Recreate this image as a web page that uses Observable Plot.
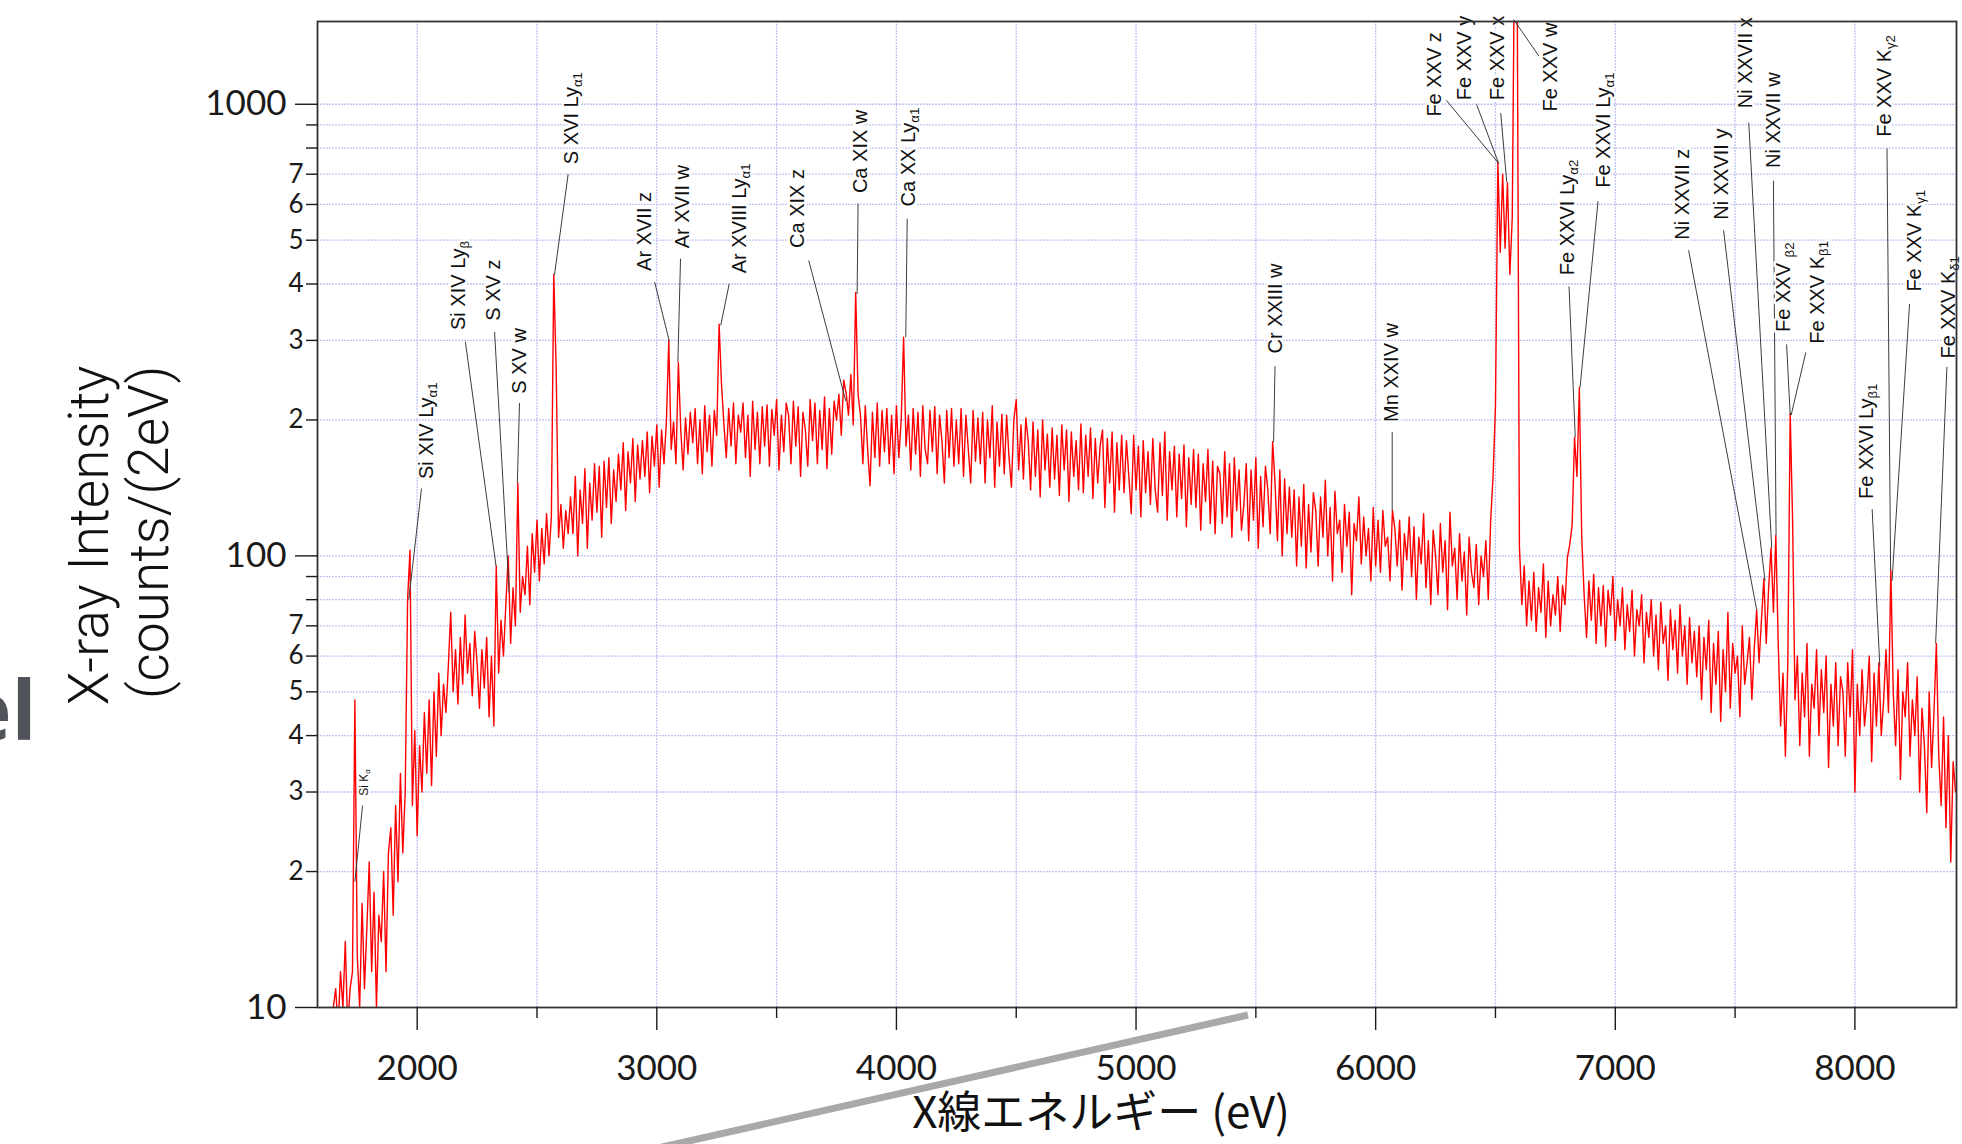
<!DOCTYPE html>
<html>
<head>
<meta charset="utf-8">
<script src="https://cdn.jsdelivr.net/npm/d3@7"></script>
<script src="https://cdn.jsdelivr.net/npm/@observablehq/plot@0.6"></script>
<style>
  html, body { margin: 0; padding: 0; background: #fff; }
  #wrap { position: relative; width: 1962px; height: 1144px; overflow: hidden; background: #fff; }
  #deco { position: absolute; left: 0; top: 0; pointer-events: none; }
</style>
</head>
<body>
<div id="wrap"></div>
<script>
// ---------------- data ----------------
// spectrum: counts per bin, bins of 10 eV starting at 1650 eV
const binStartEV = 1650;
const binWidthEV = 10;
const counts = [
  10, 11, 9, 12, 10, 14, 9, 11, 12, 48,          // 1650
  13, 10, 17, 11, 15, 21, 12, 18, 10, 16,        // 1750
  14, 20, 12, 22, 25, 16, 28, 19, 33, 22,        // 1850
  30, 80, 103, 28, 41, 24, 38, 30, 45, 33,       // 1950
  48, 31, 50, 36, 55, 40, 52, 45, 57, 75,        // 2050
  50, 62, 47, 66, 52, 74, 55, 64, 49, 68,        // 2150
  58, 46, 62, 51, 66, 44, 60, 42, 95, 55,        // 2250
  72, 60, 78, 100, 64, 85, 70, 145, 75, 90,      // 2350
  82, 105, 78, 112, 92, 120, 88, 115, 96, 124,   // 2450
  100, 122, 420, 260, 110, 130, 104, 126, 112, 135, // 2550
  112, 150, 100, 140, 118, 156, 104, 145, 120, 160, // 2650
  125, 158, 110, 162, 128, 165, 118, 155, 132, 168, // 2750
  140, 178, 126, 170, 145, 182, 132, 176, 148, 180, // 2850
  150, 188, 138, 184, 158, 195, 142, 190, 160, 198, // 2950
  300, 172, 198, 160, 268, 190, 155, 202, 168, 208, // 3050
  178, 212, 160, 200, 152, 215, 170, 205, 158, 210, // 3150
  185, 326, 240, 196, 165, 212, 175, 218, 160, 205, // 3250
  188, 218, 165, 205, 150, 220, 172, 208, 160, 214, // 3350
  175, 216, 158, 211, 185, 222, 155, 205, 170, 218, // 3450
  205, 160, 220, 175, 214, 150, 208, 190, 158, 222, // 3550
  180, 218, 160, 210, 172, 225, 156, 212, 168, 220, // 3650
  200, 228, 185, 245, 230, 205, 252, 195, 383, 228, // 3750
  205, 160, 215, 172, 143, 208, 165, 218, 158, 210, // 3850
  170, 212, 160, 205, 152, 215, 165, 200, 305, 175, // 3950
  205, 155, 212, 168, 208, 150, 215, 172, 160, 210, // 4050
  170, 214, 152, 205, 180, 145, 210, 165, 212, 158, // 4150
  200, 160, 212, 150, 205, 172, 145, 210, 162, 202, // 4250
  160, 208, 145, 200, 165, 215, 142, 198, 158, 206, // 4350
  152, 205, 165, 142, 200, 222, 155, 195, 148, 202, // 4450
  180, 140, 198, 150, 190, 135, 200, 155, 186, 142, // 4550
  192, 148, 185, 136, 195, 155, 190, 132, 188, 150, // 4650
  180, 140, 196, 138, 185, 150, 192, 134, 182, 145, // 4750
  175, 190, 128, 182, 145, 188, 125, 178, 140, 185, // 4850
  138, 180, 150, 124, 185, 140, 175, 122, 180, 138, // 4950
  170, 130, 182, 140, 125, 178, 136, 188, 120, 170, // 5050
  140, 175, 122, 168, 134, 176, 116, 165, 130, 172, // 5150
  128, 168, 114, 160, 132, 172, 118, 162, 112, 158, // 5250
  152, 118, 170, 122, 160, 110, 165, 126, 155, 114, // 5350
  130, 160, 108, 155, 120, 165, 104, 150, 116, 158, // 5450
  140, 112, 179, 145, 108, 155, 100, 148, 112, 142, // 5550
  110, 140, 95, 135, 105, 144, 94, 130, 102, 138,   // 5650
  126, 95, 135, 110, 147, 100, 128, 88, 139, 112,   // 5750
  120, 92, 130, 105, 125, 82, 118, 108, 135, 96,    // 5850
  122, 100, 115, 88, 128, 95, 120, 92, 126, 105,    // 5950
  110, 88, 126, 115, 95, 120, 84, 112, 98, 122,     // 6050
  90, 116, 80, 110, 96, 124, 85, 108, 78, 114,      // 6150
  100, 82, 118, 92, 108, 76, 125, 95, 104, 80,      // 6250
  112, 88, 102, 74, 110, 92, 85, 106, 78, 100,      // 6350
  90, 108, 80, 120, 150, 215, 745, 470, 700, 480,   // 6450
  670, 420, 560, 2400, 2300, 105, 78, 95, 70, 88,   // 6550
  72, 92, 68, 85, 75, 96, 66, 88, 70, 82,           // 6650
  74, 90, 68, 86, 78, 99, 106, 117, 183, 150,       // 6750
  236, 110, 82, 66, 88, 72, 91, 64, 85, 70,         // 6850
  86, 63, 84, 74, 90, 65, 80, 70, 85, 62,           // 6950
  78, 68, 84, 60, 76, 70, 82, 58, 75, 66,           // 7050
  80, 60, 74, 56, 79, 64, 70, 53, 76, 62,           // 7150
  72, 55, 78, 60, 70, 52, 73, 58, 68, 54,           // 7250
  70, 48, 66, 56, 72, 45, 64, 52, 68, 43,           // 7350
  62, 50, 75, 46, 64, 55, 60, 44, 70, 52,           // 7450
  58, 66, 48, 62, 76, 58, 72, 89, 64, 85,           // 7550
  104, 75, 111, 64, 42, 55, 36, 58, 207, 120,       // 7650
  48, 60, 38, 55, 44, 64, 36, 52, 46, 62,           // 7750
  40, 56, 45, 60, 34, 52, 42, 58, 38, 54,           // 7850
  50, 36, 58, 44, 62, 30, 52, 40, 56, 42,           // 7950
  48, 60, 35, 55, 42, 58, 40, 48, 62, 45,           // 8050
  93, 50, 38, 56, 32, 50, 44, 58, 36, 48,           // 8150
  40, 54, 30, 46, 38, 27, 50, 34, 45, 64,           // 8250
  36, 28, 44, 25, 40, 21, 35, 30                    // 8350
];

// line identifications ("_" marks the start of a subscript)
const lineNames = [
  "Si K_α", "Si XIV Ly_α1", "Si XIV Ly_β", "S XV z", "S XV w", "S XVI Ly_α1",
  "Ar XVII z", "Ar XVII w", "Ar XVIII Ly_α1", "Ca XIX z", "Ca XIX w", "Ca XX Ly_α1",
  "Cr XXIII w", "Mn XXIV w", "Fe XXV z", "Fe XXV y", "Fe XXV x", "Fe XXV w",
  "Fe XXVI Ly_α2", "Fe XXVI Ly_α1", "Ni XXVII z", "Ni XXVII y", "Ni XXVII x", "Ni XXVII w",
  "Fe XXV _β2", "Fe XXV K_β1", "Fe XXVI Ly_β1", "Fe XXV K_γ2", "Fe XXV K_γ1", "Fe XXV K_δ1"
];
// label position (energy eV, counts)
const labelEnergy = [1777, 2039, 2173, 2320, 2427, 2643, 2950, 3108, 3345, 3588, 3849, 4050,
  5584, 6066, 6244, 6373, 6510, 6732, 6800, 6951, 7280, 7442, 7543, 7660,
  7702, 7845, 8049, 8125, 8249, 8390];
const labelCounts = [29, 145, 310, 325, 224, 722, 419, 470, 414, 471, 623, 582,
  275, 194, 920, 1000, 1000, 944, 410, 640, 491, 544, 960, 708,
  307, 289, 131, 830, 377, 268];
// leader line: start (near label) and end (on the peak)
const leaderStartEnergy = [1772, 2018, 2201, 2323, 2427, 2630, 2991, 3099, 3302, 3634, 3840, 4045,
  5580, 6069, 6295, 6421, 6522, 6576, 6807, 6928, 7306, 7452, 7557, 7660,
  7715, 7795, 8072, 8134, 8228, 8384];
const leaderStartCounts = [28, 141, 298, 313, 218, 700, 404, 455, 400, 451, 603, 558,
  263, 188, 1020, 1000, 956, 1540, 395, 610, 475, 526, 910, 677,
  294, 282, 127, 798, 361, 262];
const peakEnergy = [1740, 1965, 2329, 2384, 2418, 2573, 3052, 3088, 3267, 3789, 3836, 4039,
  5574, 6069, 6513, 6513, 6547, 6681, 6833, 6853, 7590, 7625, 7653, 7671,
  7730, 7734, 8104, 8149, 8155, 8337];
const peakCounts = [19, 80, 95, 83, 145, 419, 299, 269, 324, 220, 380, 305,
  179, 126, 740, 740, 673, 1279, 183, 236, 76, 88, 104, 111,
  205, 205, 57, 93, 88, 64];

// axes
const xDomain = [1584, 8424];
const yDomain = [10, 1525];
const xMajorTicks = [2000, 3000, 4000, 5000, 6000, 7000, 8000];
const xMinorTicks = [2500, 3500, 4500, 5500, 6500, 7500];
const xGridLines = [2000, 2500, 3000, 3500, 4000, 4500, 5000, 5500, 6000, 6500, 7000, 7500, 8000];
const yMajorTicks = [10, 100, 1000];
const yMajorLabels = ["10", "100", "1000"];
const yMinorTicks = [20, 30, 40, 50, 60, 70, 80, 90, 200, 300, 400, 500, 600, 700, 800, 900];
const yMinorLabels = ["2", "3", "4", "5", "6", "7", "", "", "2", "3", "4", "5", "6", "7", "", ""];
const yGridLines = [20, 30, 40, 50, 60, 70, 80, 90, 100, 200, 300, 400, 500, 600, 700, 800, 900, 1000];

const xTitle = "X線エネルギー (eV)";
const yTitleLines = ["X-ray Intensity", "(counts/(2eV)"];
const slideFragment = "el";

// ---------------- build ----------------
const spectrum = counts.map((c, i) => ({energy: binStartEV + i * binWidthEV, counts: c}));
const annotations = lineNames.map((name, i) => ({
  name, tx: labelEnergy[i], ty: labelCounts[i],
  x1: leaderStartEnergy[i], y1: leaderStartCounts[i],
  x2: peakEnergy[i], y2: peakCounts[i], small: i === 0
}));
const yMajorMap = new Map(yMajorTicks.map((v, i) => [v, yMajorLabels[i]]));
const yMinorMap = new Map(yMinorTicks.map((v, i) => [v, yMinorLabels[i]]));

const gridStyle = {stroke: "#c2c2f4", strokeOpacity: 1, strokeWidth: 1.3, strokeDasharray: "2,1"};
const labelFont = "'Liberation Sans', Arial, sans-serif";
const tickFont = "Lato, 'Noto Sans', sans-serif";

const chart = Plot.plot({
  width: 1962,
  height: 1144,
  marginLeft: 317,
  marginRight: 6,
  marginTop: 21,
  marginBottom: 137,
  style: {background: "white", fontFamily: labelFont, overflow: "visible"},
  x: {domain: xDomain, label: null},
  y: {type: "log", domain: yDomain, label: null},
  marks: [
    Plot.gridX(xGridLines, gridStyle),
    Plot.gridY(yGridLines, gridStyle),
    Plot.line(spectrum, {x: "energy", y: "counts", stroke: "#ff0000", strokeWidth: 1.4, clip: true}),
    Plot.link(annotations, {x1: "x1", y1: "y1", x2: "x2", y2: "y2", stroke: "#3c3c3c", strokeWidth: 1}),
    Plot.text(annotations.filter(d => !d.small), {
      x: "tx", y: "ty", text: "name", rotate: -90, textAnchor: "start", dy: -4,
      fontSize: 20, fill: "#111", stroke: "white", strokeWidth: 5, paintOrder: "stroke",
      fontFamily: labelFont
    }),
    Plot.text(annotations.filter(d => d.small), {
      x: "tx", y: "ty", text: "name", rotate: -90, textAnchor: "start", dy: -3,
      fontSize: 12, fill: "#111", stroke: "white", strokeWidth: 3, paintOrder: "stroke",
      fontFamily: labelFont
    }),
    Plot.frame({stroke: "#333", strokeWidth: 1.8}),
    Plot.axisY(yMajorTicks, {anchor: "left", label: null, tickSize: 22, tickPadding: 9,
      tickFormat: d => yMajorMap.get(d), fontSize: 35, color: "#1a1a1a", fontFamily: tickFont, strokeWidth: 1.4}),
    Plot.axisY(yMinorTicks, {anchor: "left", label: null, tickSize: 11, tickPadding: 3,
      tickFormat: d => yMinorMap.get(d), fontSize: 26, color: "#1a1a1a", fontFamily: tickFont, strokeWidth: 1.4}),
    Plot.axisX(xMajorTicks, {anchor: "bottom", label: null, tickSize: 23, tickPadding: 25,
      tickFormat: d => String(d), fontSize: 35, color: "#1a1a1a", fontFamily: tickFont, strokeWidth: 1.4}),
    Plot.axisX(xMinorTicks, {anchor: "bottom", label: null, tickSize: 11, tickFormat: () => "",
      color: "#1a1a1a", strokeWidth: 1.4}),
    // axis titles
    Plot.text([yTitleLines[0]], {text: d => d, frameAnchor: "top-left", dx: -249, dy: 344,
      rotate: -90, textAnchor: "end", fontSize: 55, fontWeight: 300, fill: "#111",
      fontFamily: "Roboto, sans-serif"}),
    Plot.text([yTitleLines[1]], {text: d => d, frameAnchor: "top-left", dx: -189, dy: 344,
      rotate: -90, textAnchor: "end", fontSize: 55, fontWeight: 300, fill: "#111",
      fontFamily: "Roboto, sans-serif"}),
    Plot.text([xTitle], {text: d => d, frameAnchor: "bottom", dx: -36, dy: 120,
      fontSize: 44, fill: "#111", fontFamily: "'Noto Sans CJK JP', sans-serif"}),
    Plot.text([slideFragment], {text: d => d, frameAnchor: "top-left", dx: -281, dy: 660,
      textAnchor: "end", fontSize: 82, fontWeight: "bold", fill: "#4f535a",
      fontFamily: "'Open Sans', sans-serif"})
  ]
});

// subscripts: text after "_" becomes a lowered, smaller tspan
chart.querySelectorAll("text").forEach(el => {
  if (el.children.length === 0 && el.textContent.includes("_")) {
    const [main, sub] = el.textContent.split("_");
    el.textContent = main;
    const ts = document.createElementNS("http://www.w3.org/2000/svg", "tspan");
    ts.setAttribute("font-size", "0.66em");
    ts.setAttribute("dy", "0.3em");
    ts.textContent = sub;
    el.appendChild(ts);
  }
});

const wrap = document.getElementById("wrap");
wrap.appendChild(chart);

// slide connector line (decoration from the source slide, not data)
const deco = d3.select(wrap).append("svg").attr("id", "deco")
  .attr("width", 1962).attr("height", 1144);
deco.append("line")
  .attr("x1", 640).attr("y1", 1152).attr("x2", 1248).attr("y2", 1015)
  .attr("stroke", "#a9a9a9").attr("stroke-width", 7);
</script>
</body>
</html>
